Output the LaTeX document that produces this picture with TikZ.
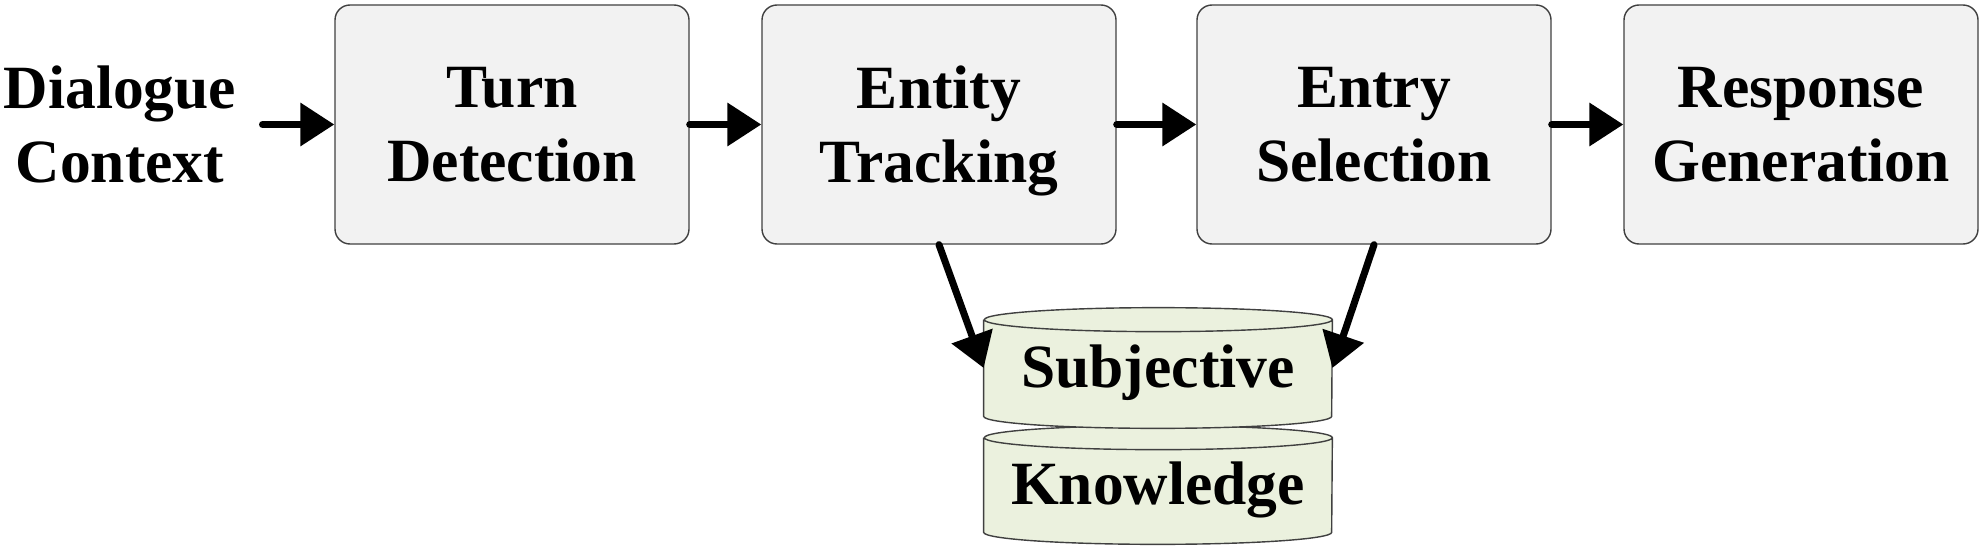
\documentclass[tikz,border=0pt]{standalone}
\usepackage{fontspec}
\setmainfont{Liberation Serif}
\usepackage{tikz}
\usetikzlibrary{arrows.meta,positioning}
\definecolor{stagefill}{HTML}{F2F2F2}
\definecolor{stageline}{HTML}{404040}
\definecolor{kbfill}{HTML}{EBF1DE}
\tikzstyle{arrow} = [-{Triangle[length=0.68cm,width=0.84cm]}, line width=4pt, line cap=round, black]
\tikzstyle{stage} = [draw=stageline, fill=stagefill, rounded corners=0.3cm, minimum width=7.08cm, minimum height=4.78cm, align=center, text depth=0pt, line width=0.8pt]
\tikzstyle{kb} = [minimum width=6.96cm, text height=24.5pt, text depth=2pt, inner sep=0pt]
\tikzstyle{kbline} = [draw=stageline, fill=kbfill, line width=0.8pt]

\begin{document}
\begin{tikzpicture}[font=\fontsize{35}{42}\selectfont\bfseries]
\useasboundingbox (0,0) rectangle (39.64,10.96);
\node[align=center, text depth=0pt, inner sep=0.52cm] at (2.4,8.47) (ctx) {Dialogue\\Context};
\node[stage] at (10.24,8.47) (turn) {Turn\\Detection};
\node[stage] at (18.78,8.47) (track) {Entity\\Tracking};
\node[stage] at (27.48,8.47) (select) {Entry\\Selection};
\node[stage] at (36.02,8.47) (gen) {Response\\Generation};
% knowledge store: two stacked drums
\node[kb, minimum height=1.88cm] at (23.16,1.26) (know) {};
\node[kb, minimum height=1.92cm] at (23.16,3.6) (subj) {};
\foreach \n in {know,subj} {
  \draw[kbline] (\n.north west) -- (\n.south west)
    arc[start angle=180, end angle=360, x radius=3.48cm, y radius=0.24cm]
    -- (\n.north east) arc[start angle=0, end angle=360, x radius=3.48cm, y radius=0.24cm];
}
\node[kb, minimum height=1.88cm] at (know) {Knowledge};
\node[kb, minimum height=1.92cm] at (subj) {Subjective};
\draw[arrow] (ctx.east) -- (turn.west);
\draw[arrow] (turn.east) -- (track.west);
\draw[arrow] (track.east) -- (select.west);
\draw[arrow] (select.east) -- (gen.west);
\draw[arrow] (track.south) -- (subj.west);
\draw[arrow] (select.south) -- (subj.east);
\end{tikzpicture}
\end{document}
